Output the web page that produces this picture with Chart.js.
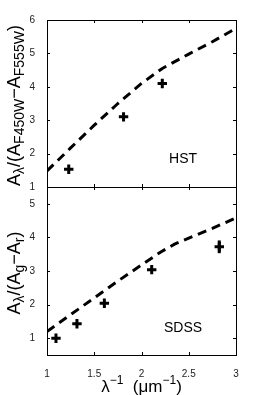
<!DOCTYPE html>
<html>
<head>
<meta charset="utf-8">
<script src="https://cdn.jsdelivr.net/npm/chart.js@4.4.1/dist/chart.umd.min.js"></script>
<style>
html, body { margin: 0; padding: 0; background: #fff; }
#wrap { position: relative; width: 276px; height: 395px; }
canvas { position: absolute; left: 0; top: 0; }
</style>
</head>
<body>
<div id="wrap">
  <canvas id="hst" width="276" height="395"></canvas>
  <canvas id="sdss" width="276" height="395"></canvas>
</div>
<script>
// x axis (inverse wavelength)
const xTicks = [1, 1.5, 2, 2.5, 3];

// HST panel
const hstYTicks = [1, 2, 3, 4, 5, 6];
const hstCurveX = [1.0, 1.25, 1.5, 1.75, 2.0, 2.22, 2.5, 2.75, 3.0];
const hstCurveY = [1.48, 2.17, 2.85, 3.5, 4.1, 4.55, 4.98, 5.35, 5.75];
const hstPointX = [1.23, 1.81, 2.22];
const hstPointY = [1.53, 3.1, 4.1];
const hstPointErr = [0, 0, 0];

// SDSS panel
const sdssYTicks = [1, 2, 3, 4, 5];
const sdssCurveX = [1.0, 1.25, 1.5, 1.75, 2.0, 2.2, 2.35, 2.5, 2.75, 3.0];
const sdssCurveY = [1.2, 1.7, 2.2, 2.7, 3.18, 3.56, 3.8, 3.98, 4.27, 4.58];
const sdssPointX = [1.095, 1.317, 1.607, 2.108, 2.823];
const sdssPointY = [1.0, 1.43, 2.04, 3.04, 3.72];
const sdssPointErr = [0, 0, 0, 0, 0.19];

const FONT = '"Liberation Sans", Arial, sans-serif';

// draw text made of pieces, s: 0 normal, 1 subscript, -1 superscript
function richText(ctx, parts, cx, cy, rot, big, small) {
    let w = 0;
    parts.forEach(p => {
        ctx.font = (p.s ? small : big) + 'px ' + FONT;
        p.w = ctx.measureText(p.t).width;
        w += p.w;
    });
    ctx.save();
    ctx.translate(cx, cy);
    ctx.rotate(rot);
    ctx.textBaseline = 'middle';
    ctx.textAlign = 'left';
    let x = -w / 2;
    parts.forEach(p => {
        ctx.font = (p.s ? small : big) + 'px ' + FONT;
        const dy = p.s === 1 ? 5 : (p.s === -1 ? -6 : 0);
        ctx.fillText(p.t, x, dy);
        x += p.w;
    });
    ctx.restore();
}

const framePlugin = {
    id: 'frame',
    afterDraw(chart, args, opts) {
        const { ctx, chartArea: a } = chart;
        const x = chart.scales.x, y = chart.scales.y;
        ctx.save();
        ctx.strokeStyle = '#000';
        ctx.lineWidth = 1;
        ctx.strokeRect(a.left + 0.5, a.top + 0.5, a.right - a.left, a.bottom - a.top);
        ctx.beginPath();
        xTicks.forEach(v => {
            const px = Math.round(x.getPixelForValue(v)) + 0.5;
            ctx.moveTo(px, a.bottom); ctx.lineTo(px, a.bottom - 3);
            ctx.moveTo(px, a.top); ctx.lineTo(px, a.top + 3);
        });
        opts.yTicks.forEach(v => {
            const py = Math.round(y.getPixelForValue(v)) + 0.5;
            ctx.moveTo(a.left, py); ctx.lineTo(a.left + 3, py);
            ctx.moveTo(a.right, py); ctx.lineTo(a.right - 3, py);
        });
        ctx.stroke();

        // vertical error bars
        ctx.lineWidth = 3;
        ctx.beginPath();
        opts.err.forEach((e, i) => {
            if (!e) return;
            const px = x.getPixelForValue(opts.px[i]);
            ctx.moveTo(px, y.getPixelForValue(opts.py[i] - e));
            ctx.lineTo(px, y.getPixelForValue(opts.py[i] + e));
        });
        ctx.stroke();

        ctx.fillStyle = '#000';
        ctx.font = '14px ' + FONT;
        ctx.textAlign = 'center';
        ctx.textBaseline = 'middle';
        ctx.fillText(opts.label, x.getPixelForValue(opts.labelAt[0]), y.getPixelForValue(opts.labelAt[1]));

        richText(ctx, opts.yTitle, 15, (a.top + a.bottom) / 2 + 2, -Math.PI / 2, 18, 14);
        if (opts.xTitle) {
            richText(ctx, opts.xTitle, (a.left + a.right) / 2, 387, 0, 17, 12);
        }
        ctx.restore();
    }
};

function makeChart(id, curveX, curveY, ptX, ptY, yMin, yMax, yTicks, pad, showX, extra) {
    return new Chart(document.getElementById(id), {
        type: 'scatter',
        data: {
            datasets: [{
                type: 'line',
                data: curveX.map((v, i) => ({ x: v, y: curveY[i] })),
                borderColor: '#000',
                borderWidth: 3,
                borderDash: [9, 6],
                pointRadius: 0,
                fill: false,
                tension: 0
            }, {
                data: ptX.map((v, i) => ({ x: v, y: ptY[i] })),
                pointStyle: 'cross',
                pointRadius: 4.7,
                pointBorderWidth: 3,
                borderColor: '#000',
                backgroundColor: '#000'
            }]
        },
        options: {
            responsive: false,
            animation: false,
            events: [],
            layout: { padding: pad },
            plugins: {
                legend: { display: false },
                tooltip: { enabled: false },
                frame: extra
            },
            scales: {
                x: {
                    type: 'linear', min: 1, max: 3,
                    display: showX,
                    afterBuildTicks: s => { s.ticks = xTicks.map(v => ({ value: v })); },
                    afterFit: s => { s.height = showX ? 40 : 0; },
                    grid: { display: false },
                    border: { display: false },
                    ticks: {
                        color: '#222', padding: 5,
                        font: { size: 10, family: FONT },
                        maxRotation: 0,
                        callback: v => String(v)
                    }
                },
                y: {
                    type: 'linear', min: yMin, max: yMax,
                    afterBuildTicks: s => { s.ticks = yTicks.map(v => ({ value: v })); },
                    afterFit: s => { s.width = 47; },
                    grid: { display: false },
                    border: { display: false },
                    ticks: {
                        color: '#222', padding: 4,
                        font: { size: 10, family: FONT },
                        callback: v => String(v)
                    }
                }
            }
        },
        plugins: [framePlugin]
    });
}

makeChart('hst', hstCurveX, hstCurveY, hstPointX, hstPointY, 1, 6, hstYTicks,
    { left: 0, right: 40, top: 20, bottom: 208 }, false,
    {
        yTicks: hstYTicks, label: 'HST', labelAt: [2.44, 1.84],
        px: hstPointX, py: hstPointY, err: hstPointErr,
        yTitle: [{ t: 'A', s: 0 }, { t: 'λ', s: 1 }, { t: '/(A', s: 0 }, { t: 'F450W', s: 1 },
                 { t: '−A', s: 0 }, { t: 'F555W', s: 1 }, { t: ')', s: 0 }]
    });

makeChart('sdss', sdssCurveX, sdssCurveY, sdssPointX, sdssPointY, 0.5, 5.5, sdssYTicks,
    { left: 0, right: 40, top: 187, bottom: 0 }, true,
    {
        yTicks: sdssYTicks, label: 'SDSS', labelAt: [2.44, 1.3],
        px: sdssPointX, py: sdssPointY, err: sdssPointErr,
        yTitle: [{ t: 'A', s: 0 }, { t: 'λ', s: 1 }, { t: '/(A', s: 0 }, { t: 'g', s: 1 },
                 { t: '−A', s: 0 }, { t: 'r', s: 1 }, { t: ')', s: 0 }],
        xTitle: [{ t: 'λ', s: 0 }, { t: '−1', s: -1 }, { t: '  (μm', s: 0 }, { t: '−1', s: -1 }, { t: ')', s: 0 }]
    });
</script>
</body>
</html>
